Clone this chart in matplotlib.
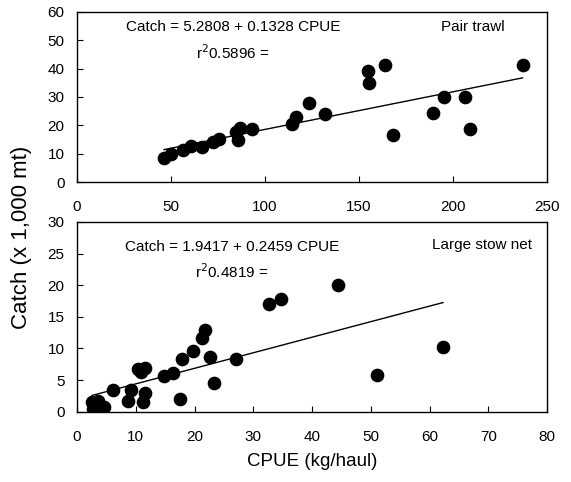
import matplotlib
matplotlib.use("Agg")
import matplotlib.pyplot as plt
import numpy as np

plt.rcParams["font.family"] = ["Liberation Sans", "DejaVu Sans"]

# Pair trawl: CPUE (kg/haul) vs catch (x 1,000 mt)
pair_cpue = [46.3, 50.0, 56.6, 60.5, 66.7, 72.2, 75.7, 84.6, 86.7, 85.5, 93.3,
             114.5, 116.5, 123.6, 131.9, 154.6, 155.1, 163.8, 168.3, 189.2,
             195.4, 206.4, 209.0, 237.0]
pair_catch = [8.6, 9.9, 11.3, 12.7, 12.4, 14.2, 15.1, 17.5, 19.0, 14.7, 18.6,
              20.5, 23.0, 27.8, 23.9, 39.3, 34.8, 41.3, 16.6, 24.5,
              30.1, 30.1, 18.6, 41.3]
pair_fit = (5.2808, 0.1328)
pair_r2 = "0.5896"

# Large stow net
stow_cpue = [2.7, 2.55, 3.5, 4.6, 6.1, 8.6, 9.2, 10.4, 11.5, 10.9, 11.2, 11.5,
             14.8, 16.3, 17.5, 17.9, 19.7, 21.3, 21.8, 22.6, 23.3, 27.1,
             32.7, 34.7, 44.5, 51.1, 62.3]
stow_catch = [0.5, 1.6, 1.7, 0.8, 3.5, 1.7, 3.4, 6.7, 6.9, 6.3, 1.6, 2.9,
              5.6, 6.1, 2.0, 8.3, 9.6, 11.6, 12.9, 8.6, 4.6, 8.3,
              17.1, 17.8, 20.0, 5.8, 10.3]
stow_fit = (1.9417, 0.2459)
stow_r2 = "0.4819"

fig = plt.figure(figsize=(5.71, 4.82), dpi=100)
ax1 = fig.add_axes([77 / 571, 1 - 182 / 482, 470 / 571, 170 / 482])
ax2 = fig.add_axes([77 / 571, 1 - 411.7 / 482, 470 / 571, 189.7 / 482])


def draw_panel(ax, x, y, fit, r2, name, xlim, ylim, xticks, yticks, pos):
    x = np.asarray(x)
    ax.scatter(x, y, s=78, color="black", zorder=3)
    xs = np.array([x.min(), x.max()])
    ax.plot(xs, fit[0] + fit[1] * xs, color="black", lw=1)
    ax.set_xlim(*xlim)
    ax.set_ylim(*ylim)
    ax.set_xticks(xticks)
    ax.set_yticks(yticks)
    ax.tick_params(axis="x", direction="in", length=4, pad=13, labelsize=11)
    ax.tick_params(axis="y", direction="in", length=4, pad=9, labelsize=11)
    for s in ax.spines.values():
        s.set_linewidth(1)
    eq_x, eq_y, r2_x, r2_y, nm_x, nm_y = pos
    ax.text(eq_x, eq_y, f"Catch = {fit[0]:.4f} + {fit[1]:.4f} CPUE",
            transform=ax.transAxes, fontsize=11, va="center", ha="left")
    ax.text(r2_x, r2_y, "r$^2$" + r2 + " =",
            transform=ax.transAxes, fontsize=11, va="center", ha="center")
    ax.text(nm_x, nm_y, name, transform=ax.transAxes, fontsize=11,
            va="center", ha="left")


draw_panel(ax1, pair_cpue, pair_catch, pair_fit, pair_r2, "Pair trawl",
           (0, 250), (0, 60), range(0, 251, 50), range(0, 61, 10),
           (0.104, 0.912, 0.332, 0.759, 0.774, 0.912))
draw_panel(ax2, stow_cpue, stow_catch, stow_fit, stow_r2, "Large stow net",
           (0, 80), (0, 30), range(0, 81, 10), range(0, 31, 5),
           (0.102, 0.87, 0.33, 0.738, 0.755, 0.879))

ax2.set_xlabel("CPUE (kg/haul)", fontsize=13.5, labelpad=7)
fig.text(22 / 571, 1 - 237 / 482, "Catch (x 1,000 mt)", rotation=90,
         fontsize=16, ha="center", va="center")

fig.savefig("out.png", dpi=100)
